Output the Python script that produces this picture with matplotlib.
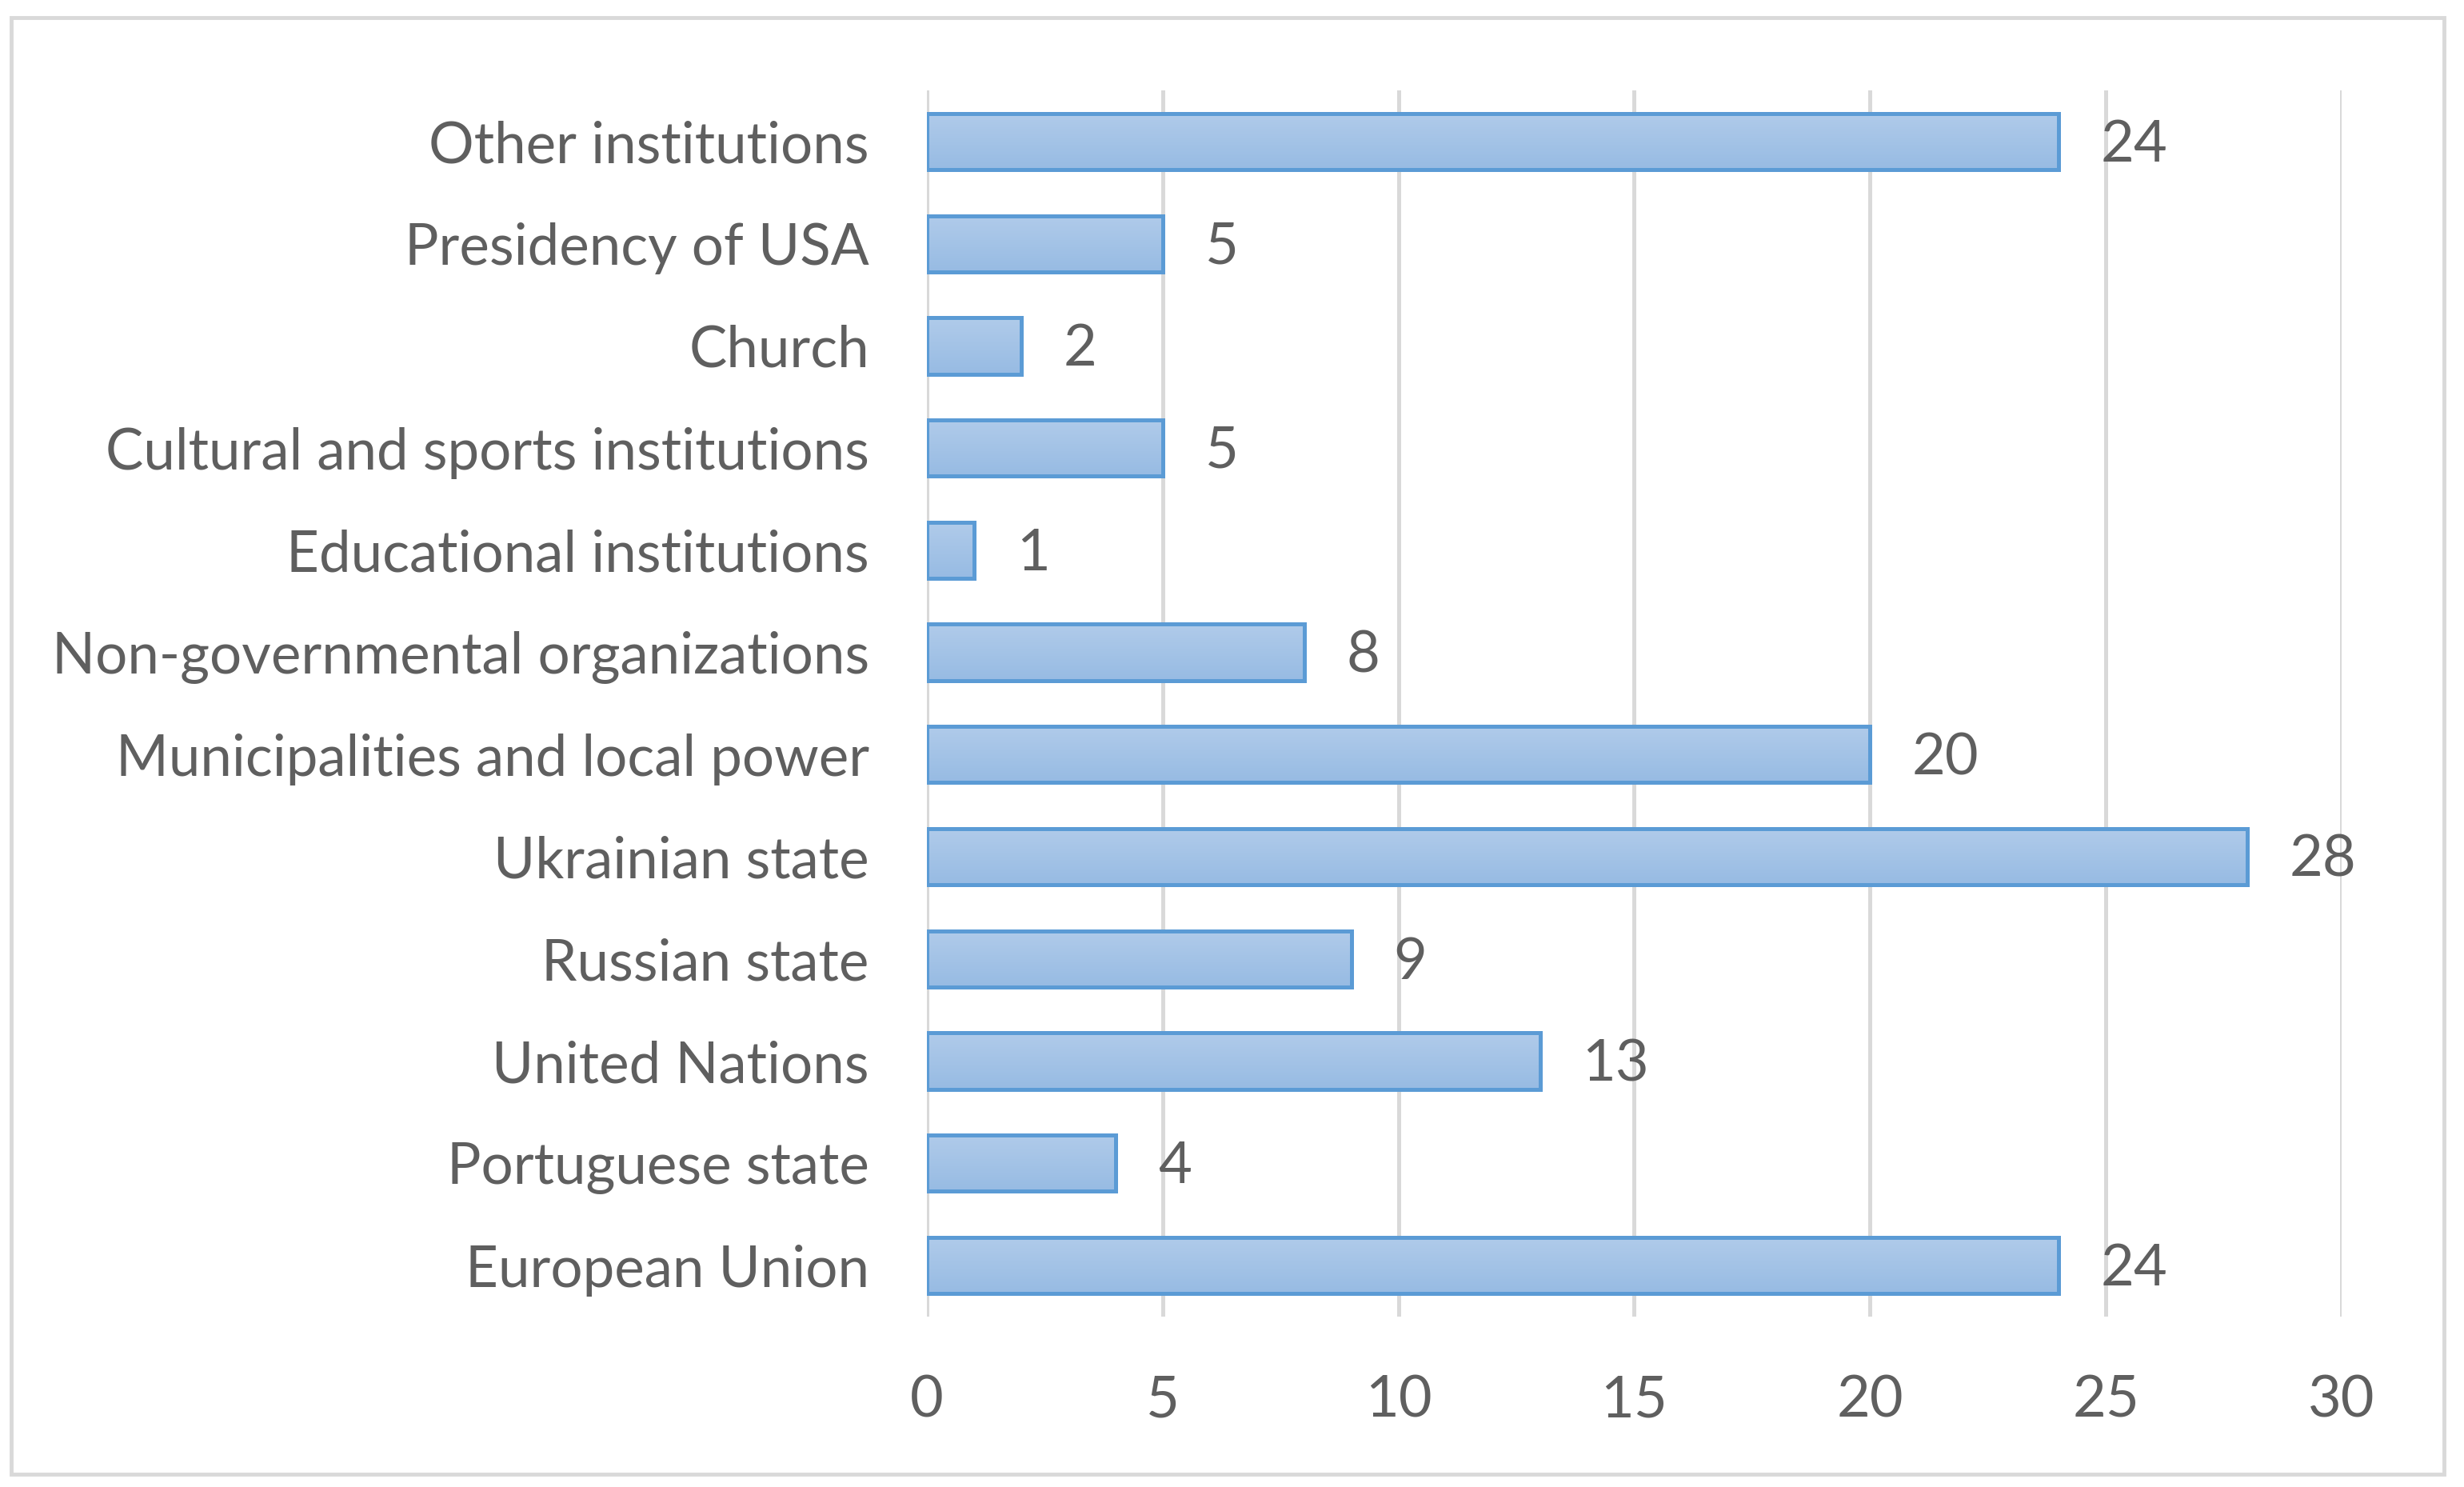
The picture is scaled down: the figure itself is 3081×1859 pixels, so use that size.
import matplotlib.pyplot as plt
import numpy as np
from matplotlib.patches import Rectangle

# categories listed bottom to top, as they appear on the chart
categories = ["European Union", "Portuguese state", "United Nations", "Russian state",
              "Ukrainian state", "Municipalities and local power",
              "Non-governmental organizations", "Educational institutions",
              "Cultural and sports institutions", "Church", "Presidency of USA",
              "Other institutions"]
counts = [24, 4, 13, 9, 28, 20, 8, 1, 5, 2, 5, 24]
x_ticks = [0, 5, 10, 15, 20, 25, 30]

text_color = '#5f5f5f'
grid_color = '#d9d9d9'

plt.rcParams['font.family'] = ['Lato', 'DejaVu Sans']

fig = plt.figure(figsize=(30.81, 18.59), dpi=100)
ax = fig.add_axes([0.3762, 0.1146, 0.5741, 0.8246])

y = np.arange(len(categories))
bars = ax.barh(y, counts, height=0.55, color='#a4c2e6', edgecolor='#5b9bd5',
               linewidth=3.6, zorder=3)

# vertical gradient in every bar, light on top
grad = np.linspace(0, 1, 64).reshape(-1, 1)
cmap = plt.matplotlib.colors.LinearSegmentedColormap.from_list('bar', ['#97bbe3', '#b0cbea'])
for b in bars:
    x0, y0 = b.get_x(), b.get_y()
    w, h = b.get_width(), b.get_height()
    im = ax.imshow(grad, extent=[x0, x0 + w, y0, y0 + h], origin='lower',
                   cmap=cmap, aspect='auto', zorder=3.5)
    im.set_clip_path(b)
    ax.add_patch(Rectangle((x0, y0), w, h, fill=False, edgecolor='#5b9bd5',
                           linewidth=3.6, zorder=4))

for yi, v in zip(y, counts):
    ax.annotate(str(v), (v, yi), xytext=(38, -3), textcoords='offset points',
                ha='left', va='center', fontsize=52, color=text_color)

ax.set_xlim(0, 30)
ax.set_ylim(-0.5, len(categories) - 0.5)
ax.set_xticks(x_ticks)
ax.set_yticks(y)
ax.set_yticklabels(categories)
ax.tick_params(axis='both', length=0, labelsize=52, labelcolor=text_color)
ax.tick_params(axis='y', pad=52, labelsize=51)
ax.tick_params(axis='x', pad=52)
for lbl in ax.get_yticklabels():
    lbl.set_va('center_baseline')
ax.xaxis.grid(True, color=grid_color, linewidth=3.6, zorder=0)
ax.set_axisbelow(True)
for s in ax.spines.values():
    s.set_visible(False)

# outer chart border
fig.patches.append(Rectangle((14 / 3081, 1 - 1843 / 1859), (3056 - 14) / 3081,
                             (1843 - 22) / 1859, transform=fig.transFigure,
                             fill=False, edgecolor=grid_color, linewidth=3.5))

fig.savefig('out.png', dpi=100)
